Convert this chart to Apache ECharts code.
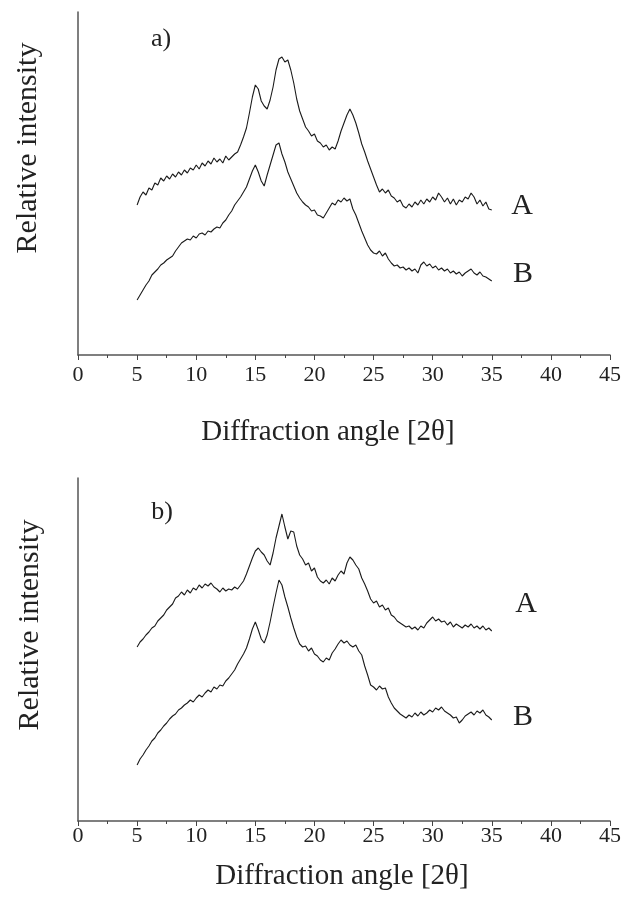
<!DOCTYPE html>
<html><head><meta charset="utf-8">
<script src="https://cdn.jsdelivr.net/npm/echarts@6/dist/echarts.min.js"></script>
<style>html,body{margin:0;padding:0;background:#fff}#c{width:624px;height:897px}</style>
</head><body><div id="c"></div>
<script>
// Scan grid: diffraction angle 2θ from 5° to 35°, sampled every 0.25°
const scanStart = 5;
const scanStep = 0.25;

// Panel a) relative intensity (arbitrary units)
const aCurveA = [150,158,163,160,167,165,172,170,177,174,179,176,181,178,183,180,185,182,187,185,
190,186,192,189,194,191,197,193,196,192,199,195,198,201,203,210,218,227,242,258,
270,266,254,249,246,255,268,285,296,298,293,295,285,272,256,244,236,228,224,219,
221,214,212,208,210,205,208,206,214,224,232,240,246,240,232,222,211,203,194,186,
178,170,163,166,162,165,159,157,153,155,149,147,151,148,153,150,155,151,156,153,
158,155,162,158,153,157,151,156,150,155,153,158,156,162,158,151,155,149,153,146,145];
const aCurveB = [55,60,65,70,74,80,83,86,90,92,95,97,99,104,108,112,114,116,115,119,
117,121,122,120,124,123,126,128,127,132,135,140,144,150,154,158,163,168,176,184,
190,183,174,169,180,190,200,210,212,201,193,183,176,169,162,157,153,150,148,144,
145,140,139,137,142,147,152,150,155,153,157,154,156,146,140,132,124,117,110,105,
102,101,104,99,102,96,92,89,90,87,88,85,87,84,86,82,90,93,89,91,
87,89,85,87,84,86,82,84,81,83,79,82,84,86,82,80,83,79,78,76,74];

// Panel b) relative intensity (arbitrary units)
const bCurveA = [174,179,182,186,189,193,195,200,203,206,211,214,217,223,225,229,226,231,228,233,
231,236,233,237,235,238,234,232,229,233,230,232,231,234,232,236,240,247,255,263,
270,273,269,266,260,256,268,283,295,307,294,282,290,289,275,266,262,256,258,250,
253,244,240,238,241,237,243,240,246,250,247,258,264,261,256,252,243,237,230,222,
218,220,214,216,211,213,206,204,200,198,196,194,195,192,194,191,195,193,198,201,
204,200,202,199,200,196,199,194,197,195,193,196,194,197,193,195,192,195,191,193,190];
const bCurveB = [56,62,66,71,75,80,83,88,91,95,98,102,105,107,111,113,116,118,121,119,
123,126,124,128,131,129,134,132,136,135,140,143,147,151,157,162,167,173,182,192,
199,191,182,178,186,199,214,228,241,236,224,214,203,193,184,177,174,175,170,173,
167,165,161,159,163,161,168,172,177,181,178,180,176,174,176,170,166,155,146,136,
134,131,135,132,133,124,118,113,110,107,105,103,106,104,108,105,109,106,108,111,
109,113,111,114,110,108,106,103,104,98,101,105,107,109,106,110,108,111,106,104,101];

const seriesNames = ['A', 'B'];
const panelLabels = ['a)', 'b)'];
const xTitle = 'Diffraction angle [2θ]';
const yTitle = 'Relative intensity';
const xMin = 0, xMax = 45, xInterval = 5;
const yMax = 343;

const serif = "'Liberation Serif','Times New Roman',serif";
const toPairs = vals => vals.map((v, i) => [scanStart + i * scanStep, v]);

const grids = [
  {left: 78, top: 12, width: 532, height: 343},
  {left: 78, top: 478, width: 532, height: 343}
];

function xAxisFor(gi, margin) {
  return {
    gridIndex: gi, type: 'value', min: xMin, max: xMax, interval: xInterval,
    axisLine: {show: true, onZero: false, lineStyle: {color: '#555', width: 1.5}},
    axisTick: {show: true, inside: false, length: 5, lineStyle: {color: '#444', width: 1}},
    minorTick: {show: true, splitNumber: 2, length: 3, lineStyle: {color: '#444', width: 1}},
    axisLabel: {show: true, margin: margin, fontFamily: serif, fontSize: 22, color: '#222'},
    splitLine: {show: false}
  };
}
function yAxisFor(gi) {
  return {
    gridIndex: gi, type: 'value', min: 0, max: yMax,
    axisLine: {show: true, lineStyle: {color: '#555', width: 1.5}},
    axisTick: {show: false}, axisLabel: {show: false}, splitLine: {show: false}
  };
}
function lineSeries(name, vals, gi) {
  return {
    name: name, type: 'line', xAxisIndex: gi, yAxisIndex: gi,
    data: toPairs(vals), showSymbol: false, symbol: 'none', animation: false,
    lineStyle: {color: '#1a1a1a', width: 1.1}
  };
}
function txt(x, y, s, size, rot) {
  return {
    type: 'text', x: x, y: y, rotation: rot || 0,
    style: {text: s, fontFamily: serif, fontSize: size, fill: '#222', align: 'center', verticalAlign: 'middle'}
  };
}

const chart = echarts.init(document.getElementById('c'), null, {renderer: 'canvas'});
chart.setOption({
  backgroundColor: '#fff',
  animation: false,
  grid: grids,
  xAxis: [xAxisFor(0, 9), xAxisFor(1, 4)],
  yAxis: [yAxisFor(0), yAxisFor(1)],
  series: [
    lineSeries(seriesNames[0], aCurveA, 0),
    lineSeries(seriesNames[1], aCurveB, 0),
    lineSeries(seriesNames[0], bCurveA, 1),
    lineSeries(seriesNames[1], bCurveB, 1)
  ],
  graphic: [
    txt(161, 39, panelLabels[0], 26),
    txt(522, 206, seriesNames[0], 30),
    txt(523, 274, seriesNames[1], 30),
    txt(328, 432, xTitle, 29),
    txt(28, 148, yTitle, 30, Math.PI / 2),
    txt(162, 512, panelLabels[1], 26),
    txt(526, 604, seriesNames[0], 30),
    txt(523, 717, seriesNames[1], 30),
    txt(342, 876, xTitle, 29),
    txt(30, 625, yTitle, 30, Math.PI / 2)
  ]
});
</script></body></html>
